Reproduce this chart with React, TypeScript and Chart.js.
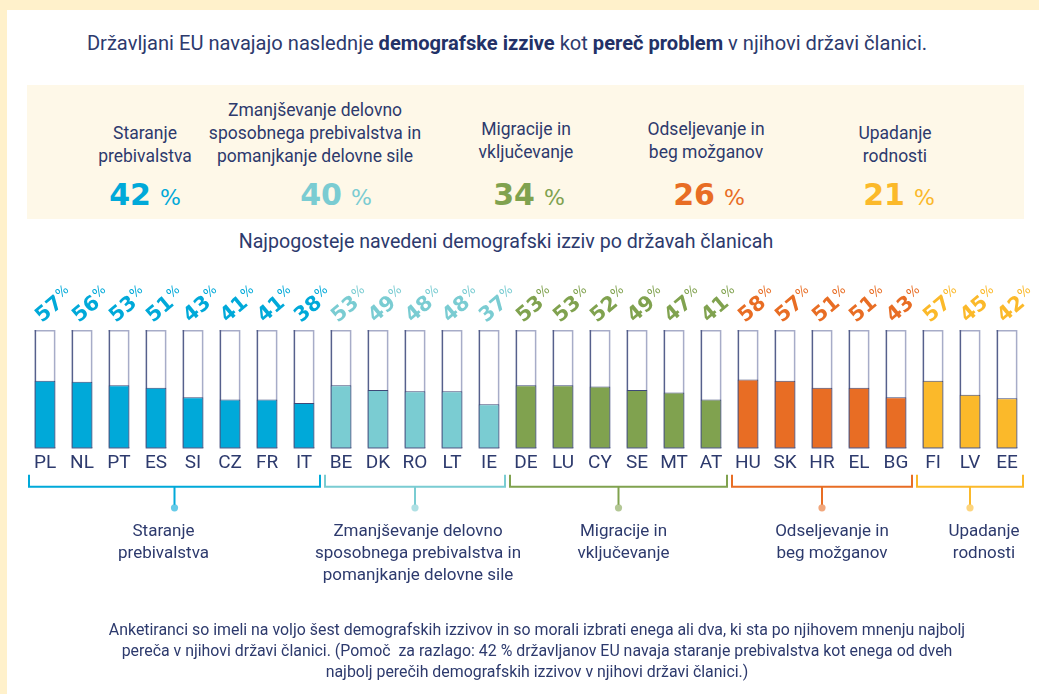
import React, { useEffect, useRef } from "react";
import { Chart, registerables } from "chart.js";

Chart.register(...registerables);

// ---------- data ----------
const countries = ["PL", "NL", "PT", "ES", "SI", "CZ", "FR", "IT", "BE", "DK", "RO", "LT", "IE", "DE", "LU", "CY", "SE", "MT", "AT", "HU", "SK", "HR", "EL", "BG", "FI", "LV", "EE"];
const countryValues = [57, 56, 53, 51, 43, 41, 41, 38, 53, 49, 48, 48, 37, 53, 53, 52, 49, 47, 41, 58, 57, 51, 51, 43, 57, 45, 42];
const countryChallenge = [0, 0, 0, 0, 0, 0, 0, 0, 1, 1, 1, 1, 1, 2, 2, 2, 2, 2, 2, 3, 3, 3, 3, 3, 4, 4, 4];
const challengeLines = [
  ["Staranje", "prebivalstva"],
  ["Zmanjševanje delovno", "sposobnega prebivalstva in", "pomanjkanje delovne sile"],
  ["Migracije in", "vključevanje"],
  ["Odseljevanje in", "beg možganov"],
  ["Upadanje", "rodnosti"],
];
const euShares = [42, 40, 34, 26, 21];
const challengeColors = ["#00A9D9", "#7ACCD2", "#80A24F", "#E86D24", "#FBB92A"];
const scaleMax = 100;

// ---------- style ----------
const NAVY = "#2D3A6D";
const NAVY_BOLD = "#233167";
const TEXT_FONT = "'Roboto', sans-serif";
const NUM_FONT = "'DejaVu Sans', sans-serif";
const labelCenters = [145, 315, 526, 706, 895];
const numberCenters = [145, 336, 529, 709, 899];
const labelLastBaselines = [162, 162, 158, 158, 162];
const groupLabelShift = [-11, 3, 5, 10, 14];

function topFor(baseline: number, fs: number, lh: number) {
  return baseline - ((lh - 1.172 * fs) / 2 + 0.928 * fs);
}

function hexA(hex: string, a: number) {
  const n = parseInt(hex.slice(1), 16);
  return `rgba(${(n >> 16) & 255},${(n >> 8) & 255},${n & 255},${a})`;
}

const overlayPlugin = {
  id: "overlay",
  beforeDatasetsDraw(chart: any) {
    const { ctx, scales } = chart;
    const y = scales.y;
    const meta = chart.getDatasetMeta(0);
    const top = y.getPixelForValue(scaleMax);
    const bottom = y.getPixelForValue(0);
    ctx.save();
    meta.data.forEach((el: any) => {
      const w = el.width;
      const l = el.x - w / 2;
      const r = el.x + w / 2;
      ctx.fillStyle = "#FFFFFF";
      ctx.fillRect(l, top, w, bottom - top);
      ctx.lineWidth = 1.5;
      ctx.strokeStyle = "#A7ACC8";
      ctx.beginPath();
      ctx.moveTo(l, top + 0.75);
      ctx.lineTo(r - 0.75, top + 0.75);
      ctx.lineTo(r - 0.75, bottom);
      ctx.stroke();
      ctx.strokeStyle = "#56608C";
      ctx.beginPath();
      ctx.moveTo(l + 0.75, top);
      ctx.lineTo(l + 0.75, bottom);
      ctx.lineTo(r, bottom);
      ctx.stroke();
    });
    ctx.restore();
  },
  afterDatasetsDraw(chart: any) {
    const { ctx, scales, chartArea } = chart;
    const x = scales.x;
    const y = scales.y;
    const top = y.getPixelForValue(scaleMax);
    const pitch = x.getPixelForValue(1) - x.getPixelForValue(0);
    ctx.save();
    // rotated value labels
    countryValues.forEach((v, i) => {
      const cx = x.getPixelForValue(i);
      const color = challengeColors[countryChallenge[i]];
      ctx.save();
      ctx.translate(cx - 3, top - 7);
      ctx.rotate((-40 * Math.PI) / 180);
      ctx.fillStyle = color;
      ctx.textAlign = "left";
      ctx.textBaseline = "alphabetic";
      ctx.font = `bold 20.5px ${NUM_FONT}`;
      const s = String(v);
      ctx.fillText(s, 0, 0);
      const w = ctx.measureText(s).width;
      ctx.font = `13px ${NUM_FONT}`;
      ctx.fillText("%", w + 1, -7);
      ctx.restore();
    });
    // brackets + group labels
    const base = chartArea.bottom;
    challengeColors.forEach((color, g) => {
      const idx = countryChallenge.map((c, i) => (c === g ? i : -1)).filter((i) => i >= 0);
      if (!idx.length) return;
      const l = x.getPixelForValue(idx[0]) - pitch / 2 + 2.5;
      const r = x.getPixelForValue(idx[idx.length - 1]) + pitch / 2 - 2.5;
      const cx = (l + r) / 2;
      const yTop = base + 27;
      const yLine = base + 39;
      ctx.strokeStyle = color;
      ctx.lineWidth = 2;
      ctx.beginPath();
      ctx.moveTo(l, yTop);
      ctx.lineTo(l, yLine);
      ctx.lineTo(r, yLine);
      ctx.lineTo(r, yTop);
      ctx.stroke();
      ctx.beginPath();
      ctx.moveTo(cx, yLine);
      ctx.lineTo(cx, base + 57);
      ctx.stroke();
      ctx.fillStyle = hexA(color, 0.6);
      ctx.beginPath();
      ctx.arc(cx, base + 60, 3.6, 0, Math.PI * 2);
      ctx.fill();
      ctx.fillStyle = NAVY;
      ctx.font = `17px ${TEXT_FONT}`;
      ctx.textAlign = "center";
      ctx.textBaseline = "alphabetic";
      challengeLines[g].forEach((line, k) => {
        ctx.fillText(line, cx + groupLabelShift[g], base + 88 + k * 22);
      });
    });
    ctx.restore();
  },
};

export default function App() {
  const canvasRef = useRef<HTMLCanvasElement | null>(null);

  useEffect(() => {
    if (!canvasRef.current) return;
    const chart = new Chart(canvasRef.current, {
      type: "bar",
      data: {
        labels: countries,
        datasets: [
          {
            data: countryValues,
            backgroundColor: countryValues.map((_, i) => challengeColors[countryChallenge[i]]),
            borderColor: "#3E4978",
            borderWidth: 1,
            barPercentage: 0.56,
            categoryPercentage: 1,
          },
        ],
      },
      options: {
        responsive: false,
        animation: false,
        devicePixelRatio: 1,
        layout: { padding: { top: 330, bottom: 215.4, left: 26.5, right: 13.5 } },
        plugins: { legend: { display: false }, tooltip: { enabled: false } },
        scales: {
          x: {
            grid: { display: false, drawTicks: false },
            border: { display: false },
            ticks: { color: NAVY, font: { family: TEXT_FONT, size: 19 }, padding: 4, maxRotation: 0, autoSkip: false },
          },
          y: { display: false, min: 0, max: scaleMax },
        },
      },
      plugins: [overlayPlugin],
    });
    return () => chart.destroy();
  }, []);

  const centered = (cx: number, baseline: number, fs: number, lh: number): React.CSSProperties => ({
    position: "absolute",
    left: cx - 520,
    width: 1040,
    top: topFor(baseline, fs, lh),
    fontSize: fs,
    lineHeight: `${lh}px`,
    textAlign: "center",
    fontFamily: TEXT_FONT,
    color: NAVY,
    whiteSpace: "nowrap",
  });

  return (
    <div style={{ position: "absolute", left: 0, top: 0, width: 1039, height: 694, overflow: "hidden", background: "#FFF1CB" }}>
      <div style={{ position: "absolute", left: 7, top: 10, right: 0, bottom: 0, background: "#FFFFFF" }} />
      <div style={{ position: "absolute", left: 27, top: 85, width: 997, height: 134, background: "#FEF8E8" }} />

      <div style={centered(507, 50, 20.1, 26)}>
        Državljani EU navajajo naslednje <b style={{ color: NAVY_BOLD }}>demografske izzive</b> kot{" "}
        <b style={{ color: NAVY_BOLD }}>pereč problem</b> v njihovi državi članici.
      </div>

      {challengeLines.map((lines, g) => (
        <div key={"l" + g} style={centered(labelCenters[g], labelLastBaselines[g] - (lines.length - 1) * 23, 17.5, 23)}>
          {lines.map((ln, k) => (
            <div key={k}>{ln}</div>
          ))}
        </div>
      ))}
      {euShares.map((v, g) => (
        <div key={"n" + g} style={{ ...centered(numberCenters[g], 205, 30, 36), fontFamily: NUM_FONT, color: challengeColors[g] }}>
          <span style={{ fontWeight: "bold", fontSize: 30 }}>{v}</span>
          <span style={{ fontSize: 22, marginLeft: 9 }}>%</span>
        </div>
      ))}

      <div style={centered(506, 249, 19.6, 24)}>Najpogosteje navedeni demografski izziv po državah članicah</div>

      <canvas ref={canvasRef} width={1039} height={694} style={{ position: "absolute", left: 0, top: 0, width: 1039, height: 694 }} />

      <div style={centered(537, 635, 15.9, 21)}>
        <div>Anketiranci so imeli na voljo šest demografskih izzivov in so morali izbrati enega ali dva, ki sta po njihovem mnenju najbolj</div>
        <div>pereča v njihovi državi članici. (Pomoč&nbsp; za razlago: 42 % državljanov EU navaja staranje prebivalstva kot enega od dveh</div>
        <div>najbolj perečih demografskih izzivov v njihovi državi članici.)</div>
      </div>
    </div>
  );
}
